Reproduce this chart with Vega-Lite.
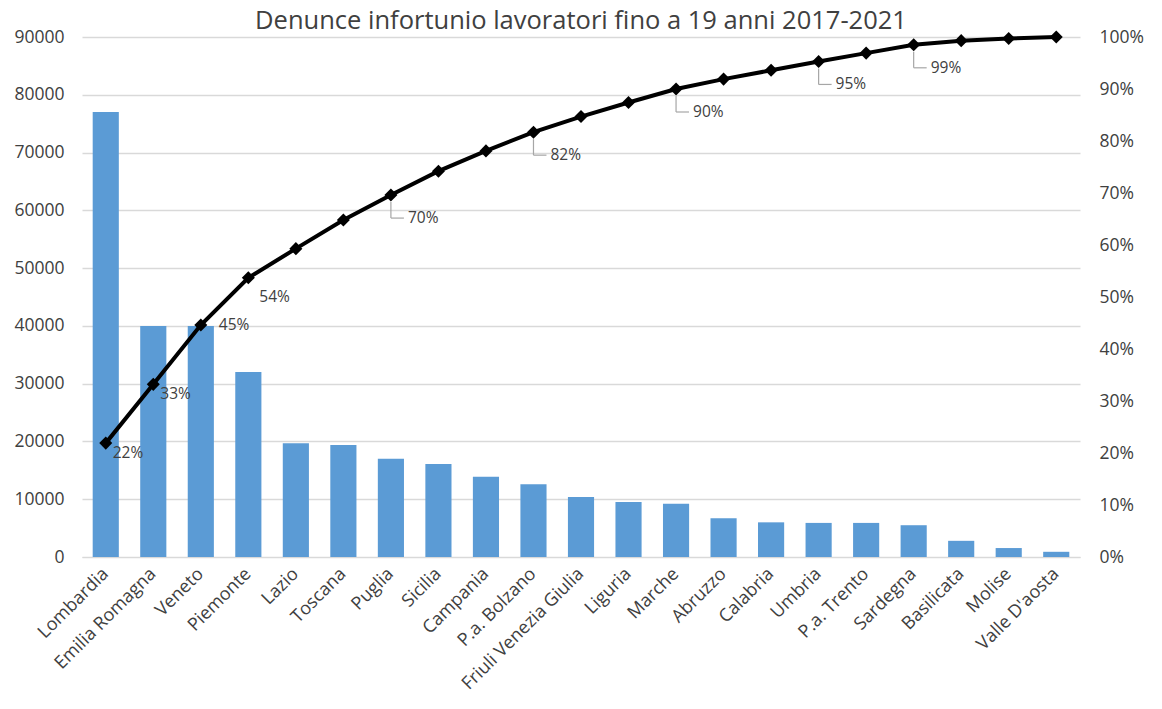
{
  "$schema": "https://vega.github.io/schema/vega-lite/v6.json",
  "width": 998,
  "height": 520,
  "autosize": {"type": "none"},
  "padding": {"left": 82, "top": 37, "right": 82, "bottom": 152},
  "background": "white",
  "config": {
    "font": "Open Sans",
    "view": {"stroke": null}
  },
  "title": {
    "text": "Denunce infortunio lavoratori fino a 19 anni 2017-2021",
    "fontSize": 25.5,
    "fontWeight": "normal",
    "color": "#404040",
    "font": "Open Sans",
    "anchor": "middle",
    "offset": -6
  },
  "data": {
    "values": [
      {"region": "Lombardia", "count": 77000, "cum": 0.219, "lbl": "22%"},
      {"region": "Emilia Romagna", "count": 40000, "cum": 0.332, "lbl": "33%"},
      {"region": "Veneto", "count": 40000, "cum": 0.446, "lbl": "45%"},
      {"region": "Piemonte", "count": 32000, "cum": 0.537, "lbl": "54%"},
      {"region": "Lazio", "count": 19700, "cum": 0.593, "lbl": ""},
      {"region": "Toscana", "count": 19400, "cum": 0.648, "lbl": ""},
      {"region": "Puglia", "count": 17000, "cum": 0.696, "lbl": "70%"},
      {"region": "Sicilia", "count": 16100, "cum": 0.742, "lbl": ""},
      {"region": "Campania", "count": 13900, "cum": 0.781, "lbl": ""},
      {"region": "P.a. Bolzano", "count": 12600, "cum": 0.817, "lbl": "82%"},
      {"region": "Friuli Venezia Giulia", "count": 10400, "cum": 0.847, "lbl": ""},
      {"region": "Liguria", "count": 9500, "cum": 0.874, "lbl": ""},
      {"region": "Marche", "count": 9200, "cum": 0.900, "lbl": "90%"},
      {"region": "Abruzzo", "count": 6700, "cum": 0.919, "lbl": ""},
      {"region": "Calabria", "count": 6000, "cum": 0.936, "lbl": ""},
      {"region": "Umbria", "count": 5900, "cum": 0.953, "lbl": "95%"},
      {"region": "P.a. Trento", "count": 5900, "cum": 0.969, "lbl": ""},
      {"region": "Sardegna", "count": 5500, "cum": 0.985, "lbl": "99%"},
      {"region": "Basilicata", "count": 2800, "cum": 0.993, "lbl": ""},
      {"region": "Molise", "count": 1550, "cum": 0.997, "lbl": ""},
      {"region": "Valle D'aosta", "count": 900, "cum": 1.0, "lbl": ""}
    ]
  },
  "encoding": {
    "x": {
      "field": "region",
      "type": "nominal",
      "sort": null,
      "scale": {"paddingInner": 0.45, "paddingOuter": 0.225},
      "axis": {
        "title": null,
        "labelAngle": -45,
        "labelAlign": "right",
        "labelBaseline": "middle",
        "labelFontSize": 18,
        "labelColor": "#404040",
        "labelPadding": 14,
        "ticks": false,
        "domain": true,
        "domainColor": "#d9d9d9",
        "labelFont": "Open Sans"
      }
    }
  },
  "layer": [
    {
      "mark": {"type": "bar", "color": "#5B9BD5"},
      "encoding": {
        "y": {
          "field": "count",
          "type": "quantitative",
          "scale": {"domain": [0, 90000], "nice": false},
          "axis": {
            "title": null,
            "orient": "left",
            "values": [0, 10000, 20000, 30000, 40000, 50000, 60000, 70000, 80000, 90000],
            "format": "d",
            "grid": true,
            "gridColor": "#d9d9d9",
            "gridWidth": 1.5,
            "domain": false,
            "ticks": false,
            "labelFontSize": 17.5,
            "labelColor": "#404040",
            "labelPadding": 18,
            "labelFont": "Open Sans"
          }
        }
      }
    },
    {
      "layer": [
        {
          "mark": {"type": "line", "color": "#000000", "strokeWidth": 4},
          "encoding": {
            "y": {
              "field": "cum",
              "type": "quantitative",
              "scale": {"domain": [0, 1], "nice": false},
              "axis": {
                "title": null,
                "orient": "right",
                "values": [0, 0.1, 0.2, 0.3, 0.4, 0.5, 0.6, 0.7, 0.8, 0.9, 1.0],
                "format": ".0%",
                "grid": false,
                "domain": false,
                "ticks": false,
                "labelFontSize": 17.5,
                "labelColor": "#404040",
                "labelPadding": 19,
                "labelFont": "Open Sans"
              }
            }
          }
        },
        {
          "mark": {"type": "point", "shape": "diamond", "filled": true, "color": "#000000", "size": 170, "opacity": 1},
          "encoding": {
            "y": {"field": "cum", "type": "quantitative"}
          }
        },
        {
          "transform": [{"filter": "datum.region === 'Lombardia' || datum.region === 'Emilia Romagna'"}],
          "mark": {"type": "text", "align": "left", "baseline": "middle", "dx": 7, "dy": 10, "fontSize": 15.5, "color": "#404040", "font": "Open Sans"},
          "encoding": {
            "y": {"field": "cum", "type": "quantitative"},
            "text": {"field": "lbl"}
          }
        },
        {
          "transform": [{"filter": "datum.region === 'Veneto'"}],
          "mark": {"type": "text", "align": "left", "baseline": "middle", "dx": 18, "dy": 0, "fontSize": 15.5, "color": "#404040", "font": "Open Sans"},
          "encoding": {
            "y": {"field": "cum", "type": "quantitative"},
            "text": {"field": "lbl"}
          }
        },
        {
          "transform": [{"filter": "datum.region === 'Piemonte'"}],
          "mark": {"type": "text", "align": "left", "baseline": "middle", "dx": 11, "dy": 19, "fontSize": 15.5, "color": "#404040", "font": "Open Sans"},
          "encoding": {
            "y": {"field": "cum", "type": "quantitative"},
            "text": {"field": "lbl"}
          }
        },
        {
          "transform": [{"filter": "datum.lbl !== '' && indexof(['Lombardia','Emilia Romagna','Veneto','Piemonte'], datum.region) < 0"}],
          "mark": {"type": "text", "align": "left", "baseline": "middle", "dx": 17, "dy": 23, "fontSize": 15.5, "color": "#404040", "font": "Open Sans"},
          "encoding": {
            "y": {"field": "cum", "type": "quantitative"},
            "text": {"field": "lbl"}
          }
        },
        {
          "transform": [{"filter": "datum.lbl !== '' && indexof(['Lombardia','Emilia Romagna','Veneto','Piemonte'], datum.region) < 0"}],
          "mark": {"type": "rule", "color": "#a6a6a6", "strokeWidth": 1.2, "yOffset": 7, "y2Offset": 23},
          "encoding": {
            "y": {"field": "cum", "type": "quantitative"},
            "y2": {"field": "cum"}
          }
        },
        {
          "transform": [{"filter": "datum.lbl !== '' && indexof(['Lombardia','Emilia Romagna','Veneto','Piemonte'], datum.region) < 0"}],
          "mark": {"type": "rule", "color": "#a6a6a6", "strokeWidth": 1.2, "yOffset": 23, "x2Offset": 13},
          "encoding": {
            "x2": {"field": "region"},
            "y": {"field": "cum", "type": "quantitative"}
          }
        }
      ]
    }
  ],
  "resolve": {"scale": {"y": "independent"}}
}
